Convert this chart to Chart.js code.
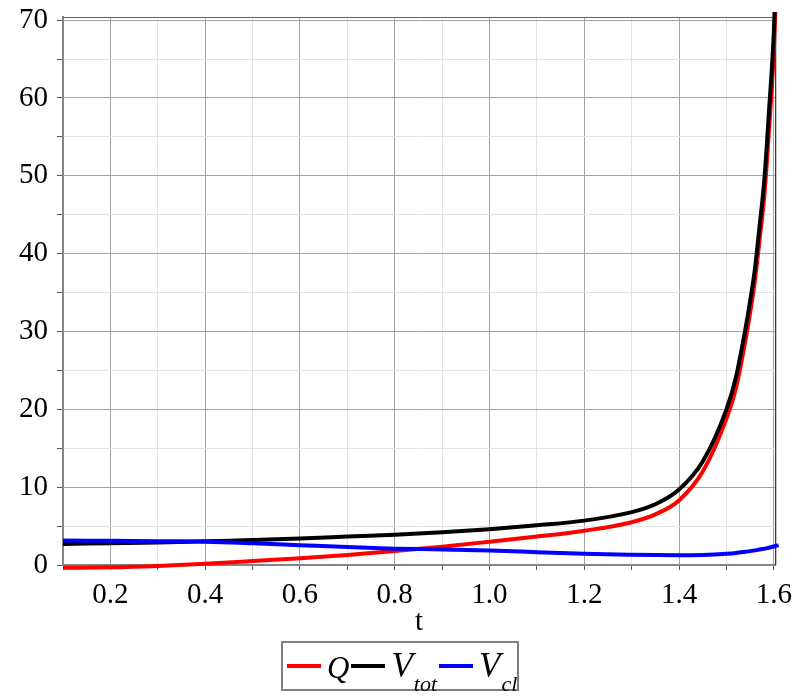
<!DOCTYPE html>
<html>
<head>
<meta charset="utf-8">
<script src="https://cdn.jsdelivr.net/npm/chart.js@4.4.1/dist/chart.umd.min.js"></script>
<style>
    html, body { margin: 0; padding: 0; background: #fff; }
    #wrap { position: relative; width: 800px; height: 700px; }
    #legend {
        position: absolute; left: 281px; top: 641px; height: 46px;
        border: 2px solid #808080; display: flex; align-items: center;
        font-family: 'Liberation Serif', 'Times New Roman', serif; font-style: italic;
        padding: 0 0 0 2px; white-space: nowrap;
    }
    .item { display: flex; align-items: center; }
    .swatch { width: 34px; height: 4px; margin: 0 6px 0 2px; }
    .name { font-size: 31px; line-height: 1; position: relative; top: 1px; }
    .name.v { font-size: 35px; top: -1px; }
    .name sub { font-size: 22px; vertical-align: baseline; position: relative; top: 14px; margin-left: 1px; }
</style>
</head>
<body>
<div id="wrap">
    <canvas id="canvas" width="800" height="700"></canvas>
    <div id="legend"></div>
</div>
<script>
const tValues = [0.1, 0.2, 0.3, 0.4, 0.5, 0.6, 0.7, 0.8, 0.9, 1.0, 1.1, 1.2, 1.3, 1.35, 1.4, 1.45, 1.5, 1.52, 1.54, 1.55, 1.56, 1.57, 1.58, 1.59, 1.6, 1.61];
const qValues = [-0.35, -0.3, -0.12, 0.15, 0.5, 0.88, 1.3, 1.8, 2.35, 3.0, 3.65, 4.4, 5.5, 6.5, 8.3, 12.0, 18.8, 22.7, 28.8, 32.4, 36.5, 41.8, 47.5, 56, 66, 82];
const vTotValues = [2.7, 2.8, 2.9, 3.05, 3.2, 3.4, 3.65, 3.9, 4.2, 4.6, 5.1, 5.7, 6.8, 7.8, 9.7, 13.3, 20, 24.1, 30.3, 33.9, 38, 43.6, 49.5, 58.5, 68.5, 86];
const vClValues = [3.15, 3.1, 3.05, 3.0, 2.8, 2.55, 2.3, 2.1, 2.0, 1.85, 1.65, 1.45, 1.32, 1.27, 1.25, 1.3, 1.45, 1.55, 1.7, 1.78, 1.88, 1.98, 2.1, 2.22, 2.38, 2.55];

const xTicks = [0.1, 0.2, 0.3, 0.4, 0.5, 0.6, 0.7, 0.8, 0.9, 1.0, 1.1, 1.2, 1.3, 1.4, 1.5, 1.6];
const yTicks = [0, 5, 10, 15, 20, 25, 30, 35, 40, 45, 50, 55, 60, 65, 70];

const seriesNames = ['Q', 'V_tot', 'V_cl'];
const seriesColors = ['rgb(255, 0, 0)', 'rgb(0, 0, 0)', 'rgb(0, 0, 255)'];

const serif = "'Liberation Serif', 'Times New Roman', serif";
const majorGrid = '#a3a3a3';
const minorGrid = '#e4e4e4';

function toPoints(values) {
    return values.map((v, i) => ({ x: tValues[i], y: v }));
}

function makeDataset(index, values) {
    return {
        label: seriesNames[index],
        data: toPoints(values),
        borderColor: seriesColors[index],
        backgroundColor: seriesColors[index],
        borderWidth: 4,
        pointRadius: 0,
        fill: false,
        cubicInterpolationMode: 'monotone',
        clip: { left: 5, top: 5, right: 6, bottom: 6 },
        order: 3 - index,
    };
}

// frame: top and right edge of the plot box
const frame = {
    id: 'frame',
    beforeDatasetsDraw(chart) {
        const { ctx, chartArea } = chart;
        ctx.save();
        ctx.lineWidth = 1;
        ctx.strokeStyle = '#606060';
        ctx.beginPath();
        ctx.moveTo(chartArea.left, chartArea.top + 0.5);
        ctx.lineTo(chartArea.right, chartArea.top + 0.5);
        ctx.stroke();
        ctx.strokeStyle = '#000';
        ctx.beginPath();
        ctx.moveTo(chartArea.right + 0.5, chartArea.top);
        ctx.lineTo(chartArea.right + 0.5, chartArea.bottom);
        ctx.stroke();
        ctx.restore();
    }
};

const chart = new Chart(document.getElementById('canvas'), {
    type: 'line',
    data: {
        datasets: [
            makeDataset(0, qValues),
            makeDataset(1, vTotValues),
            makeDataset(2, vClValues),
        ],
    },
    plugins: [frame],
    options: {
        responsive: false,
        animation: false,
        devicePixelRatio: 1,
        layout: { padding: { top: 0, right: 24, bottom: 60, left: 0 } },
        plugins: {
            legend: { display: false },
            tooltip: { enabled: false },
        },
        scales: {
            x: {
                type: 'linear',
                min: 0.1,
                max: 1.603,
                afterBuildTicks: scale => { scale.ticks = xTicks.map(v => ({ value: v })); },
                afterFit: scale => { scale.height = 75; },
                grid: {
                    color: ctx => (ctx.tick && Math.round(ctx.tick.value * 10) % 2 === 0 ? majorGrid : minorGrid),
                    tickColor: '#555',
                    tickLength: 5,
                },
                border: { color: '#858585', width: 2 },
                ticks: {
                    autoSkip: false,
                    maxRotation: 0,
                    padding: 8,
                    color: '#000',
                    font: { family: serif, size: 29 },
                    callback: value => (Math.round(value * 10) % 2 === 0 ? value.toFixed(1) : ''),
                },
                title: {
                    display: true,
                    text: 't',
                    color: '#000',
                    padding: 0,
                    font: { family: serif, size: 29 },
                },
            },
            y: {
                type: 'linear',
                min: 0,
                max: 70.4,
                afterBuildTicks: scale => { scale.ticks = yTicks.map(v => ({ value: v })); },
                afterFit: scale => {
                    scale.width = 63;
                    scale.paddingTop = 17;
                    scale.paddingBottom = 0;
                },
                grid: {
                    color: ctx => (ctx.tick && ctx.tick.value % 10 === 0 ? majorGrid : minorGrid),
                    tickColor: '#555',
                    tickLength: 6,
                },
                border: { color: '#858585', width: 2 },
                ticks: {
                    autoSkip: false,
                    padding: 9,
                    color: '#000',
                    font: { family: serif, size: 29 },
                    callback: value => (value % 10 === 0 ? String(value) : ''),
                },
            },
        },
    },
});

// html legend, so the subscripts can be real text
const legend = document.getElementById('legend');
chart.data.datasets.forEach(dataset => {
    const parts = dataset.label.split('_');
    const item = document.createElement('span');
    item.className = 'item';
    const swatch = document.createElement('span');
    swatch.className = 'swatch';
    swatch.style.background = dataset.borderColor;
    const name = document.createElement('span');
    name.className = parts.length > 1 ? 'name v' : 'name';
    name.textContent = parts[0];
    if (parts.length > 1) {
        const sub = document.createElement('sub');
        sub.textContent = parts[1];
        name.appendChild(sub);
    }
    item.appendChild(swatch);
    item.appendChild(name);
    legend.appendChild(item);
});
</script>
</body>
</html>
